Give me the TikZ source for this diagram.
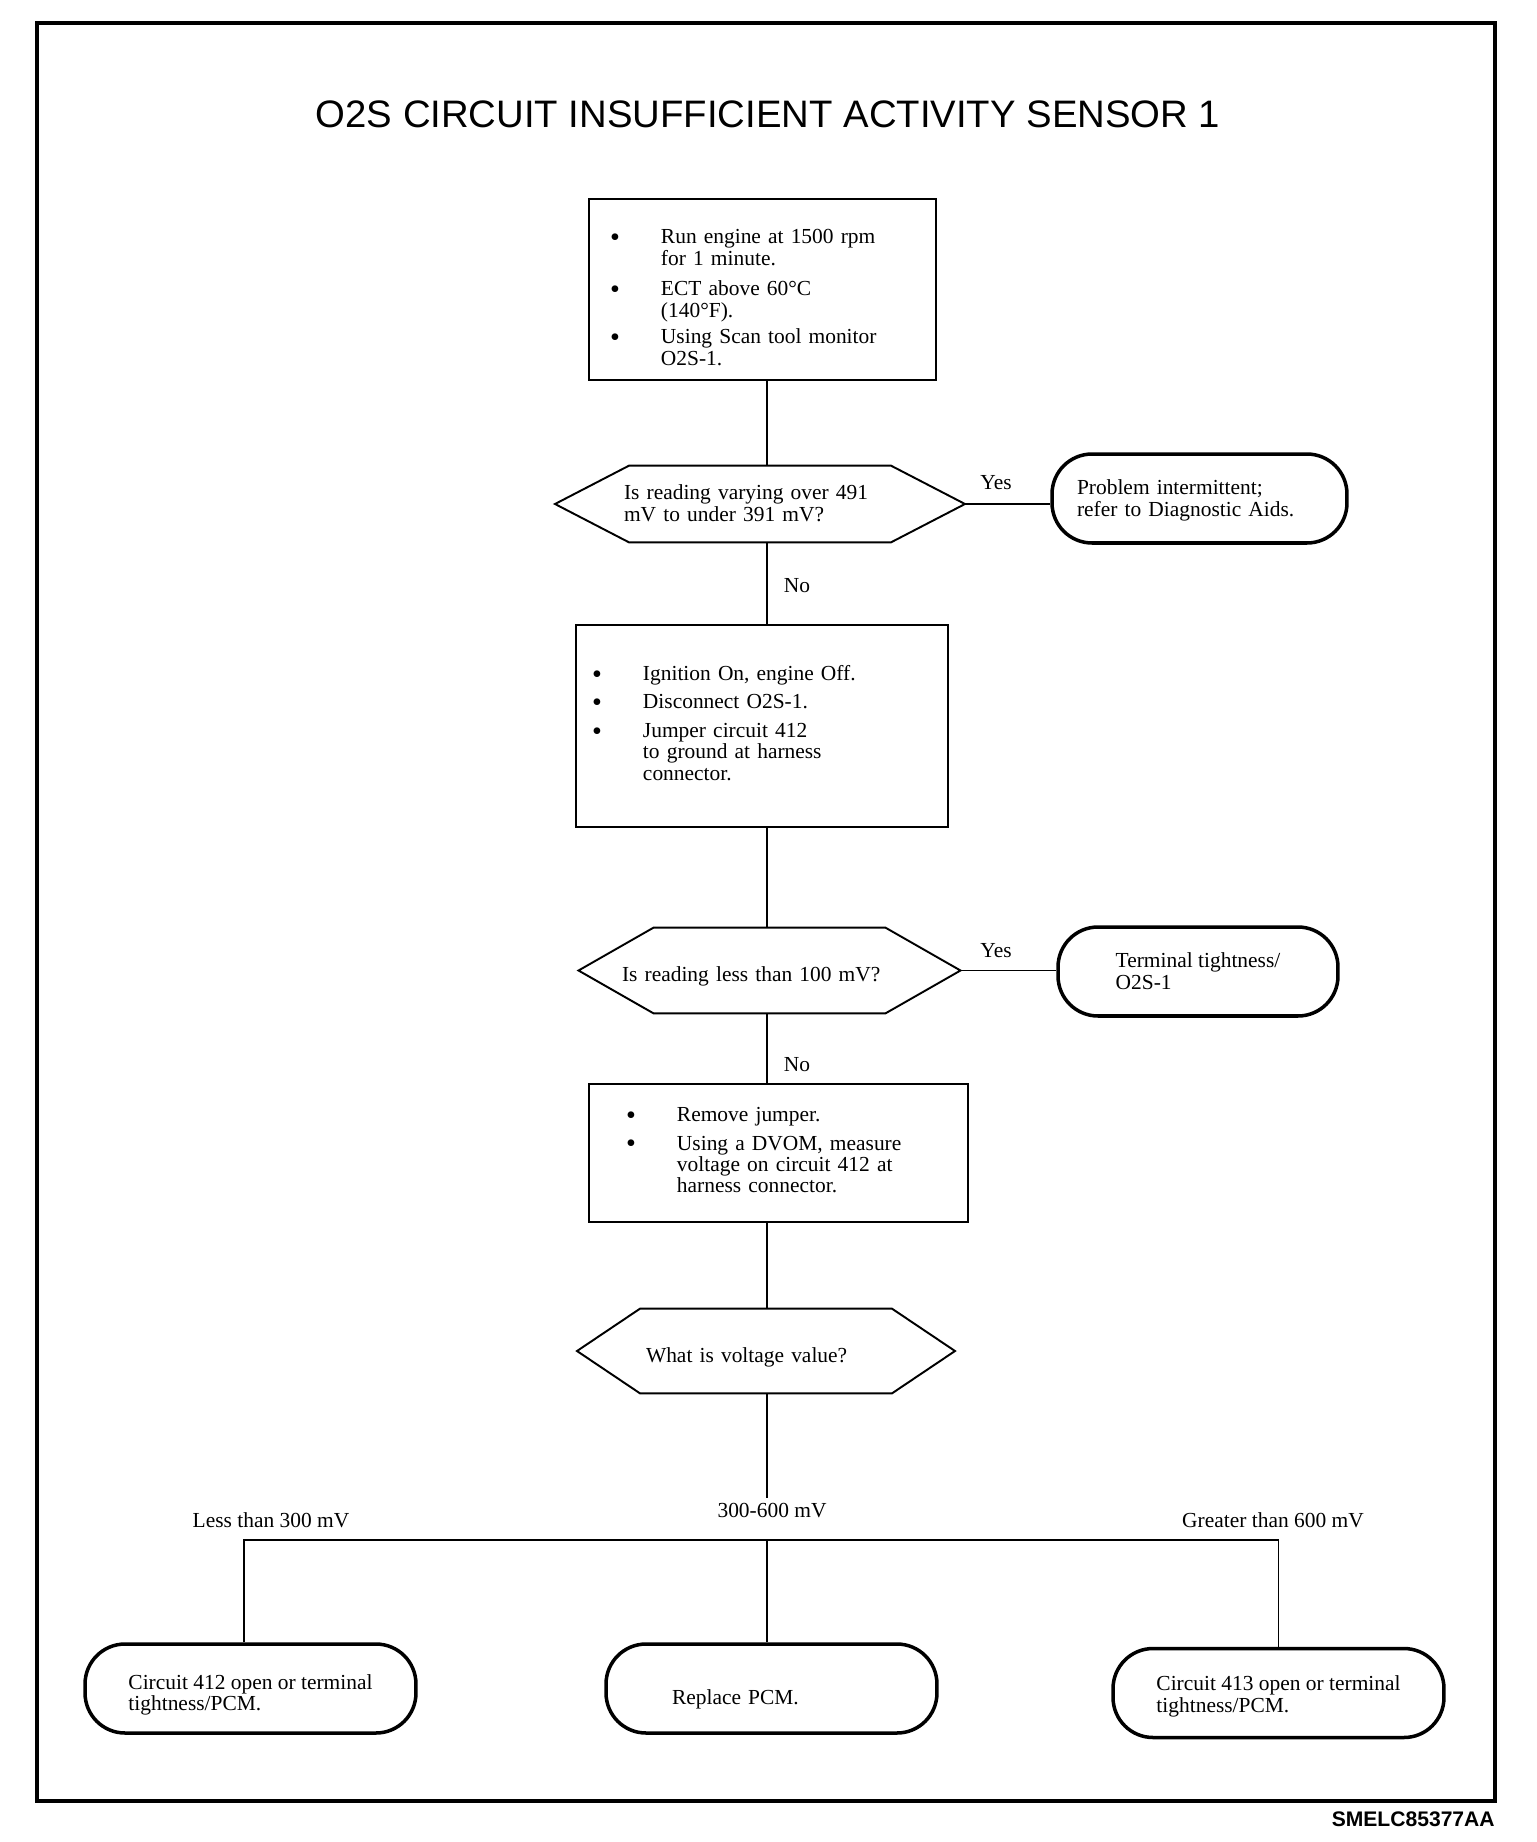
\documentclass[tikz,border=0pt]{standalone}
\usepackage{fontspec}
\setmainfont{Liberation Serif}
\newfontfamily\headfont{Liberation Sans}
\usetikzlibrary{calc,positioning}
\newcommand{\bigdot}{\raisebox{-1.6pt}{\fontsize{16}{12}\selectfont\textbullet}}
\newcommand{\lowered}[2]{\raisebox{-#1}[\height][\depth]{\begin{tabular}{@{}l@{}}#2\end{tabular}}}
\tikzset{
  flowLine/.style={line width=0.9pt, draw=black},
  hexLine/.style={line width=1.1pt, draw=black, line join=miter},
  stepbox/.style={
    draw,
    line width=1.2pt,
    align=left,
    inner ysep=0pt
  },
  termbox/.style={
    draw,
    line width=2pt,
    rounded corners=0.8cm,
    align=left,
    minimum height=1.78cm,
    inner ysep=0pt
  },
  decbox/.style={
    inner sep=0pt,
    align=left
  }
}

\begin{document}
\begin{tikzpicture}[x=0.02cm, y=-0.02cm, font=\fontsize{12.2}{12.2}\selectfont]
  \useasboundingbox (0,0) rectangle (1536,1842);
  \draw[line width=2.3pt] (37,23) rectangle (1495,1801);

  \node[font=\headfont\fontsize{21.8}{26}\selectfont] (title) at (768,114) {O2S CIRCUIT INSUFFICIENT ACTIVITY SENSOR 1};
  \node[anchor=base east, inner sep=0pt, font=\headfont\bfseries\fontsize{12}{14}\selectfont] (figid) at (1495,1826) {SMELC85377AA};

  % main column
  \node[stepbox, text width=6.1cm, inner xsep=0.42cm, minimum height=3.62cm] (run) at (762.5,289.5) {%
    \begin{tabular}{@{}p{29pt}@{}l@{}}
    \multicolumn{2}{@{}l@{}}{}\\
    \bigdot & Run engine at 1500 rpm\\
            & for 1 minute.\\[5pt]
    \bigdot & ECT above 60°C\\
            & (140°F).\\[3pt]
    \bigdot & Using Scan tool monitor\\
            & O2S-1.
    \end{tabular}};
  \node[decbox, text width=5.44cm, minimum height=1.52cm] (vary) at (760,504) {\lowered{1.3pt}{Is reading varying over 491\\mV to under 391 mV?}};
  \node[stepbox, text width=6.8cm, inner xsep=0.32cm, minimum height=4.04cm] (ign) at (762,726) {%
    \begin{tabular}{@{}p{29pt}@{}l@{}}
    \bigdot & Ignition On, engine Off.\\[4pt]
    \bigdot & Disconnect O2S-1.\\[4pt]
    \bigdot & Jumper circuit 412\\
            & to ground at harness\\
            & connector.
    \end{tabular}};
  \node[decbox, text width=5.9cm, minimum height=1.7cm] (less) at (769.5,970.5) {\lowered{4pt}{Is reading less than 100 mV?}};
  \node[stepbox, text width=6.1cm, inner xsep=0.74cm, minimum height=2.76cm] (dvom) at (778.5,1153) {%
    \begin{tabular}{@{}p{29pt}@{}l@{}}
    \bigdot & Remove jumper.\\[4pt]
    \bigdot & Using a DVOM, measure\\
            & voltage on circuit 412 at\\
            & harness connector.
    \end{tabular}};
  \node[decbox, text width=4.8cm, minimum height=1.68cm] (volt) at (766,1351) {\lowered{4pt}{What is voltage value?}};

  % outcomes
  \node[termbox, text width=4.9cm, inner xsep=0.5cm] (intm) at (1199.5,498.5) {\lowered{1.5pt}{Problem intermittent;\\refer to Diagnostic Aids.}};
  \node[termbox, minimum width=5.6cm] (tight) at (1198,971.5) {\lowered{1.5pt}{Terminal tightness/\\O2S-1}};
  \node[termbox, minimum width=6.62cm] (open412) at (250.5,1688.5) {\lowered{4pt}{Circuit 412 open or terminal\\tightness/PCM.}};
  \node[termbox, text width=3.98cm, inner xsep=1.32cm] (pcm) at (771.5,1688.5) {\lowered{6.5pt}{Replace PCM.}};
  \node[termbox, minimum width=6.62cm] (open413) at (1278.5,1693) {\lowered{2.5pt}{Circuit 413 open or terminal\\tightness/PCM.}};

  \foreach \n/\hf/\tp in {vary/131/74,less/116/75,volt/126/63}
    \draw[hexLine] ($(\n.north)+(-\hf,0)$) -- ($(\n.north)+(\hf,0)$)
      -- ($(\n.center)+(\hf+\tp,0)$) coordinate (\n-tip)
      -- ($(\n.south)+(\hf,0)$) -- ($(\n.south)+(-\hf,0)$)
      -- ($(\n.center)+(-\hf-\tp,0)$) -- cycle;

  \node (yes1) at (996,483) {Yes};
  \node (no1) at (797,586) {No};
  \node (yes2) at (996,951) {Yes};
  \node (no2) at (797,1065) {No};
  \node (lowv) at (271,1520) {Less than 300 mV};
  \node (midv) at (772,1511) {300-600 mV};
  \node (highv) at (1273,1520) {Greater than 600 mV};

  \coordinate (spine) at (767,0);
  \coordinate (lowdrop) at (244,0);
  \coordinate (split) at (767,1540);
  \foreach \a/\b in {run/vary,vary/ign,ign/less,less/dvom,dvom/volt}
    \draw[flowLine] (\a.south -| spine) -- (\b.north -| spine);
  \draw[flowLine] (volt.south -| spine) -- (midv.north -| spine);
  \draw[flowLine] (split) -- (split |- pcm.north);
  \draw[flowLine] (lowdrop |- open412.north) |- (split) -| (open413.north);
  \draw[flowLine] (vary-tip) -- (vary-tip -| intm.west);
  \draw[flowLine] (less-tip) -- (less-tip -| tight.west);
\end{tikzpicture}
\end{document}
